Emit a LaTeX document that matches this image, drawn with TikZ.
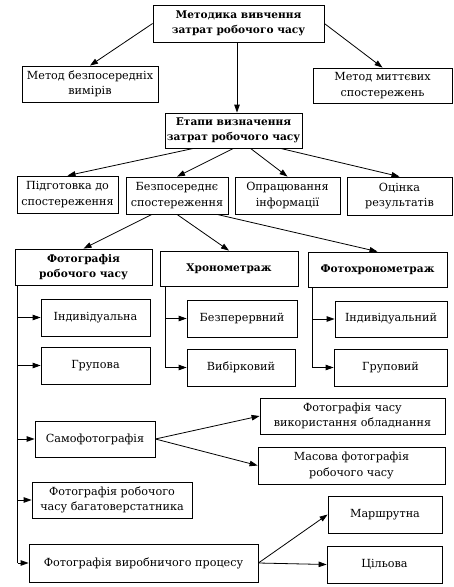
\documentclass[tikz,border=0pt]{standalone}
\usepackage{fontspec}
\setmainfont{DejaVu Serif}
\usetikzlibrary{arrows.meta}
\tikzset{
  box/.style={draw, line width=0.8pt, inner sep=1pt, align=center, font=\fontsize{11.2}{15.5}\selectfont},
  bbox/.style={box, font=\fontsize{10.6}{15.5}\selectfont\bfseries},
  arr/.style={line width=0.8pt, -{Triangle[length=8pt,width=5.5pt]}},
  ln/.style={line width=0.8pt}
}
\newcommand\bx[7][box]{\node[#1, minimum width={#5-#3}, minimum height={#6-#4}] (#2) at ({(#3+#5)/2},{(#4+#6)/2}) {#7};}
\begin{document}
\begin{tikzpicture}[x=1pt,y=-1pt]
\useasboundingbox (0,0) rectangle (453,587);
\bx[bbox]{top}{153}{5}{324}{42}{Методика вивчення\\затрат робочого часу}
\bx{ma}{22}{66}{158}{102}{Метод безпосередніх\\вимірів}
\bx{mb}{313}{68}{452}{103}{Метод миттєвих\\спостережень}
\bx[bbox]{et}{165}{113}{302}{148}{Етапи визначення\\затрат робочого часу}
\bx{pa}{17}{176}{118}{213}{Підготовка до\\спостереження}
\bx{pb}{126}{177}{228}{214}{Безпосереднє\\спостереження}
\bx{pc}{235}{177}{340}{214}{Опрацювання\\інформації}
\bx{pd}{347}{177}{452}{215}{Оцінка\\результатів}
\bx[bbox]{fa}{15}{249}{152}{285}{Фотографія\\робочого часу}
\bx[bbox]{fb}{160}{251}{298}{286}{Хронометраж}
\bx[bbox]{fc}{308}{252}{447}{287}{Фотохронометраж}
\bx{ia}{41}{299}{150}{336}{Індивідуальна}
\bx{ga}{41}{347}{150}{384}{Групова}
\bx{ib}{187}{300}{297}{337}{Безперервний}
\bx{gb}{187}{349}{295}{386}{Вибірковий}
\bx{ic}{335}{301}{447}{337}{Індивідуальний}
\bx{gc}{334}{349}{447}{386}{Груповий}
\bx{sf}{35}{421}{155}{457}{Самофотографія}
\bx{ob}{260}{398}{445}{434}{Фотографія часу\\використання обладнання}
\bx{ms}{258}{447}{445}{484}{Масова фотографія\\робочого часу}
\bx{bv}{32}{482}{192}{518}{Фотографія робочого\\часу багатоверстатника}
\bx{vp}{29}{544}{258}{582}{Фотографія виробничого процесу}
\bx{mr}{328}{496}{442}{533}{Маршрутна}
\bx{cl}{327}{546}{442}{583}{Цільова}
% top level
\draw[arr] (top.west) -- (ma.north);
\draw[arr] (top.east) -- (mb.north);
\draw[arr] (top.south -| 237,0) -- (et.north -| 237,0);
% stages
\draw[arr] ([xshift=-40pt]et.south) -- (pa.north);
\draw[arr] (et.south) -- (pb.north);
\draw[arr] ([xshift=17pt]et.south) -- (pc.north);
\draw[arr] ([xshift=47pt]et.south) -- (pd.north);
% observation
\draw[arr] ([xshift=-25pt]pb.south) -- (fa.north);
\draw[arr] (pb.south) -- (fb.north);
\draw[arr] ([xshift=40pt]pb.south) -- (fc.north);
% forks
\coordinate (ta) at ([xshift=3pt]fa.south west);
\coordinate (tb) at ([xshift=6pt]fb.south west);
\coordinate (tc) at ([xshift=5pt]fc.south west);
\draw[ln] (ta) -- (ta |- vp.west);
\foreach \n in {ia,ga,sf,bv,vp} \draw[arr] (ta |- \n.west) -- (\n.west);
\draw[ln] (tb) -- (tb |- gb.west);
\foreach \n in {ib,gb} \draw[arr] (tb |- \n.west) -- (\n.west);
\draw[ln] (tc) -- (tc |- gc.west);
\foreach \n in {ic,gc} \draw[arr] (tc |- \n.west) -- (\n.west);
% right branches
\draw[arr] (sf.east) -- (ob.west);
\draw[arr] (sf.east) -- (ms.west);
\draw[arr] (vp.east) -- (mr.west);
\draw[arr] (vp.east) -- (cl.west);
\end{tikzpicture}
\end{document}
